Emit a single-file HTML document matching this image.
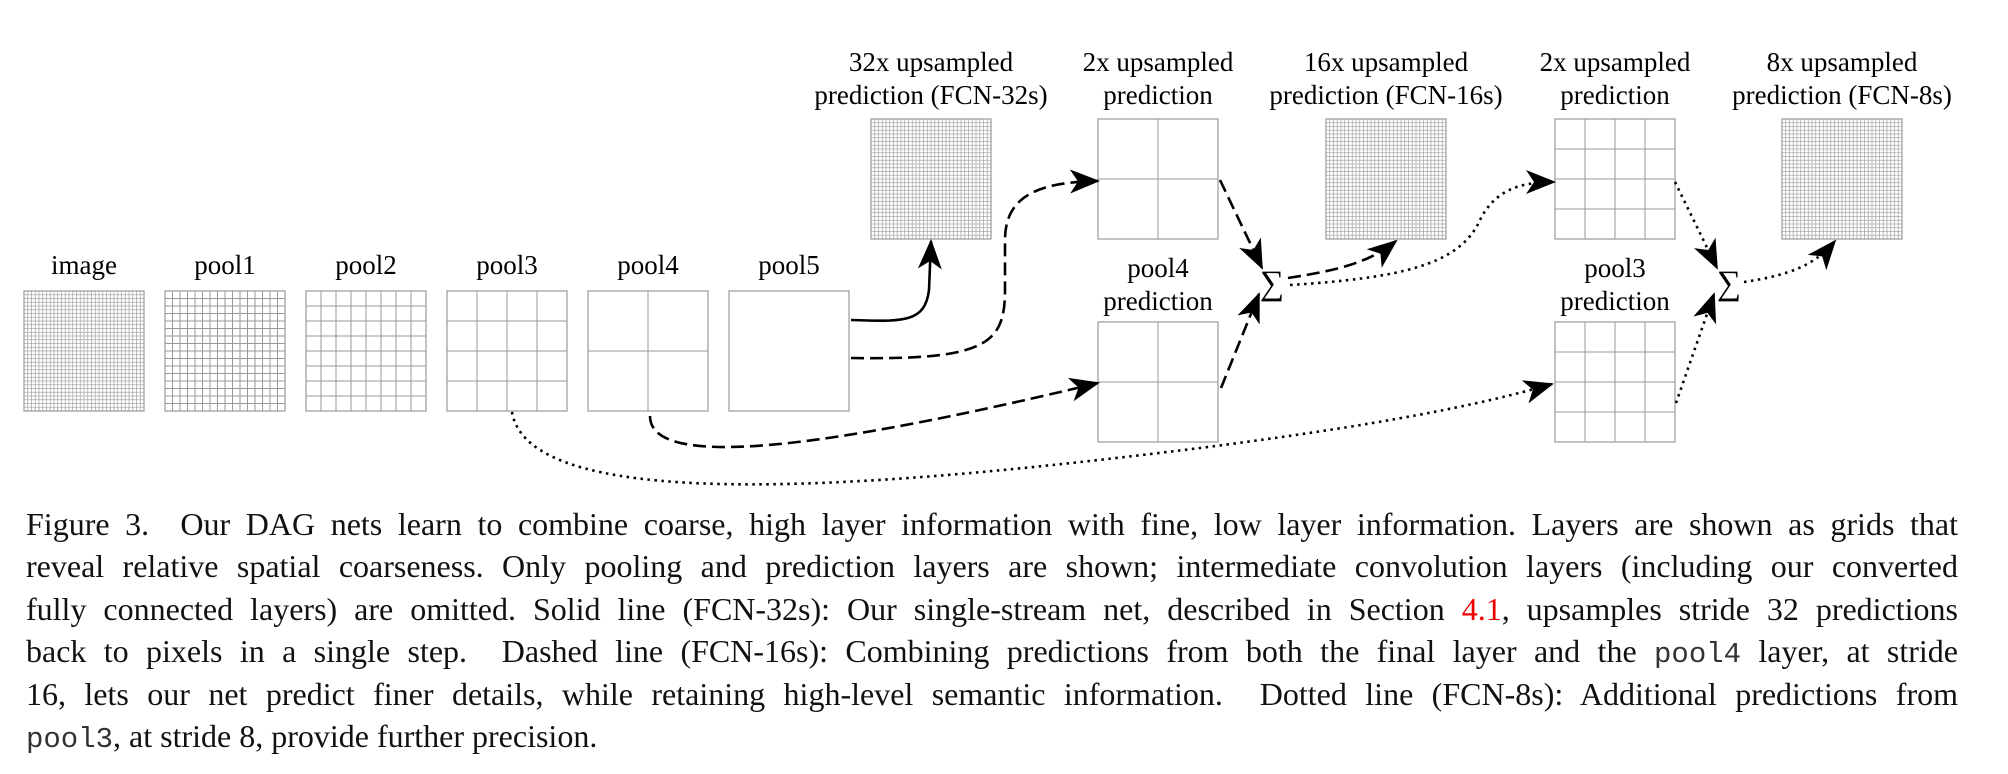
<!DOCTYPE html>
<html><head><meta charset="utf-8"><style>
body{margin:0;width:2008px;height:774px;background:#fff;overflow:hidden;position:relative;font-family:"Liberation Serif",serif}
svg{position:absolute;left:0;top:0}
.cap{position:absolute;left:26px;width:1932px;font-size:32px;line-height:42.4px;top:503px;color:#111}
.cap div{text-align:justify;text-align-last:justify;white-space:nowrap;height:42.4px}
.cap div.last{text-align-last:left}
.mono{font-family:"Liberation Mono",monospace;font-size:29px;color:#333;line-height:10px}
</style></head><body>
<svg id="fig" width="2008" height="500" xmlns="http://www.w3.org/2000/svg">
<defs>
<marker id="ah" viewBox="0 0 30 24" refX="28" refY="12" markerWidth="30" markerHeight="24" markerUnits="userSpaceOnUse" orient="auto">
<path d="M0,0 L30,12 L0,24 L8,12 Z" fill="#000"/></marker>
</defs>
<g id="grids"></g>
<g font-size="27" text-anchor="middle" fill="#000" id="labels"></g>
<g fill="none" stroke="#000" stroke-width="2.6">
<path d="M851,320 C905,322 925,322 929,290 L931,241" marker-end="url(#ah)"/>
<g stroke-dasharray="13,6">
<path d="M851,358 C985,360 1005,345 1005,290 L1005,240 C1005,195 1040,182 1098,181" marker-end="url(#ah)"/>
<path d="M650,416 C650,470 820,450 1098,383" marker-end="url(#ah)"/>
<path d="M1220,180 L1262,268" marker-end="url(#ah)"/>
<path d="M1221,388 L1259,294" marker-end="url(#ah)"/>
<path d="M1288,278 C1340,270 1370,262 1396,241" marker-end="url(#ah)"/>
</g>
<g stroke-dasharray="2.5,4.5">
<path d="M1290,285 C1400,278 1460,265 1480,220 C1495,190 1520,182 1554,182" marker-end="url(#ah)"/>
<path d="M512,412 C530,520 900,485 1200,448 C1380,425 1480,405 1552,384" marker-end="url(#ah)"/>
<path d="M1675,182 L1717,268" marker-end="url(#ah)"/>
<path d="M1676,403 L1714,294" marker-end="url(#ah)"/>
<path d="M1744,282 C1790,275 1815,265 1835,241" marker-end="url(#ah)"/>
</g>
</g>
<text x="1272" y="294" font-size="34" text-anchor="middle">∑</text>
<text x="1729" y="294" font-size="34" text-anchor="middle">∑</text>
</svg>
<div class="cap">
<div>Figure 3.&nbsp; Our DAG nets learn to combine coarse, high layer information with fine, low layer information. Layers are shown as grids that</div>
<div>reveal relative spatial coarseness. Only pooling and prediction layers are shown; intermediate convolution layers (including our converted</div>
<div>fully connected layers) are omitted. Solid line (FCN-32s): Our single-stream net, described in Section <span style="color:#e00">4.1</span>, upsamples stride 32 predictions</div>
<div>back to pixels in a single step.&nbsp; Dashed line (FCN-16s): Combining predictions from both the final layer and the <span class="mono">pool4</span> layer, at stride</div>
<div>16, lets our net predict finer details, while retaining high-level semantic information.&nbsp; Dotted line (FCN-8s): Additional predictions from</div>
<div class="last"><span class="mono">pool3</span>, at stride 8, provide further precision.</div>
</div>
<script>
const layerNames=['image','pool1','pool2','pool3','pool4','pool5','up32','up2a','pool4pred','up16','up2b','pool3pred','up8'];
const layerCells=[32,16,8,4,2,1,32,2,2,32,4,4,32];
const layerX=[24,165,306,447,588,729,871,1098,1098,1326,1555,1555,1782];
const layerY=[291,291,291,291,291,291,119,119,322,119,119,322,119];
const labels=[['image'],['pool1'],['pool2'],['pool3'],['pool4'],['pool5'],['32x upsampled','prediction (FCN-32s)'],['2x upsampled','prediction'],['pool4','prediction'],['16x upsampled','prediction (FCN-16s)'],['2x upsampled','prediction'],['pool3','prediction'],['8x upsampled','prediction (FCN-8s)']];
const NS='http://www.w3.org/2000/svg';
const g=document.getElementById('grids'),lg=document.getElementById('labels');
const W=120,H=120;
layerNames.forEach((n,i)=>{
  const gr=document.createElementNS(NS,'g');
  
  
  const x=layerX[i],y=layerY[i],c=layerCells[i];
  let d='';
  for(let k=1;k<c;k++){const xx=x+W*k/c,yy=y+H*k/c;d+=`M${xx},${y}V${y+H}M${x},${yy}H${x+W}`;}
  const p=document.createElementNS(NS,'path');
  p.setAttribute('d',d);p.setAttribute('stroke',c>16?'#aaa':'#999');p.setAttribute('stroke-width',c>16?'0.8':'1');p.setAttribute('fill','none');
  gr.appendChild(p);
  const r=document.createElementNS(NS,'rect');
  r.setAttribute('x',x);r.setAttribute('y',y);r.setAttribute('width',W);r.setAttribute('height',H);
  r.setAttribute('fill','none');r.setAttribute('stroke','#999');r.setAttribute('stroke-width','1.2');
  gr.appendChild(r);g.appendChild(gr);
  const L=labels[i];
  const off=(y===291)?17:(y===119?15:12);
  L.forEach((t,j)=>{
    const tx=document.createElementNS(NS,'text');
    
    
    tx.setAttribute('x',x+W/2);
    tx.setAttribute('y',y-off-(L.length-1-j)*33);
    tx.textContent=t;lg.appendChild(tx);
  });
});
</script>
</body></html>
